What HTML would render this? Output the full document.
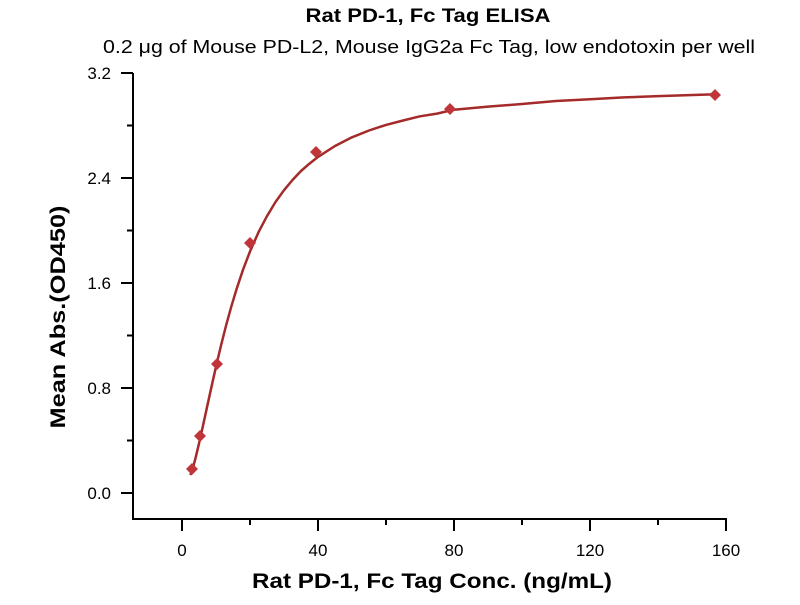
<!DOCTYPE html>
<html><head><meta charset="utf-8"><style>body{margin:0;background:#fff}</style></head><body>
<svg width="800" height="600" xmlns="http://www.w3.org/2000/svg" font-family="'Liberation Sans', sans-serif">
<text x="428" y="22" text-anchor="middle" font-size="19" font-weight="bold" textLength="245" lengthAdjust="spacingAndGlyphs">Rat PD-1, Fc Tag ELISA</text>
<text x="429" y="53" text-anchor="middle" font-size="18" textLength="652" lengthAdjust="spacingAndGlyphs">0.2 μg of Mouse PD-L2, Mouse IgG2a Fc Tag, low endotoxin per well</text>
<g stroke="#000" stroke-width="2" fill="none">
<path d="M133,73 V519 H727"/>
<path d="M133,73 H121 M133,125.5 H127 M133,178 H121 M133,230.5 H127 M133,283 H121 M133,335.5 H127 M133,388 H121 M133,440.5 H127 M133,493 H121"/>
<path d="M182,519 V531 M250,519 V525 M318,519 V531 M386,519 V525 M454,519 V531 M522,519 V525 M590,519 V531 M658,519 V525 M726,519 V531"/>
</g>
<g font-size="17" text-anchor="end">
<text x="111" y="79">3.2</text><text x="111" y="184">2.4</text><text x="111" y="289">1.6</text><text x="111" y="394">0.8</text><text x="111" y="499">0.0</text>
</g>
<g font-size="17" text-anchor="middle">
<text x="182" y="556">0</text><text x="318" y="556">40</text><text x="454" y="556">80</text><text x="590" y="556">120</text><text x="726" y="556">160</text>
</g>
<text x="432" y="588" text-anchor="middle" font-size="21" font-weight="bold" textLength="360" lengthAdjust="spacingAndGlyphs">Rat PD-1, Fc Tag Conc. (ng/mL)</text>
<text transform="translate(65,317) rotate(-90)" text-anchor="middle" font-size="21" font-weight="bold" textLength="223" lengthAdjust="spacingAndGlyphs">Mean Abs.(OD450)</text>
<polyline fill="none" stroke="#a52a2a" stroke-width="2.5" stroke-linejoin="round" points="190.3,475 192.2,470.7 195.6,457.8 199,443.5 202.4,428.3 205.8,412.8 209.2,397.2 212.6,381.8 216,366.7 221.1,345.1 226.2,325 231.3,306.6 236.4,289.6 243.2,269.2 250,251.5 258.5,232.2 267,216.1 275.5,202 284,190.2 292.5,180 301,171 309.5,163.6 318,156.9 335,146 352,137.3 369,130.5 386,124.9 403,120.5 420,116.3 437,113.6 454,109.7 488,106.6 522,104 556,101 590,99.3 624,97.4 658,96.1 685.2,95.2 712.4,94.4"/>
<g fill="#c0353a">
<path d="M192,463 l6,6 -6,6 -6,-6z"/>
<path d="M200,430 l6,6 -6,6 -6,-6z"/>
<path d="M217,358 l6,6 -6,6 -6,-6z"/>
<path d="M250,237 l6,6 -6,6 -6,-6z"/>
<path d="M316,146 l6,6 -6,6 -6,-6z"/>
<path d="M450,103 l6,6 -6,6 -6,-6z"/>
<path d="M715,89 l6,6 -6,6 -6,-6z"/>
</g>
</svg>
</body></html>
